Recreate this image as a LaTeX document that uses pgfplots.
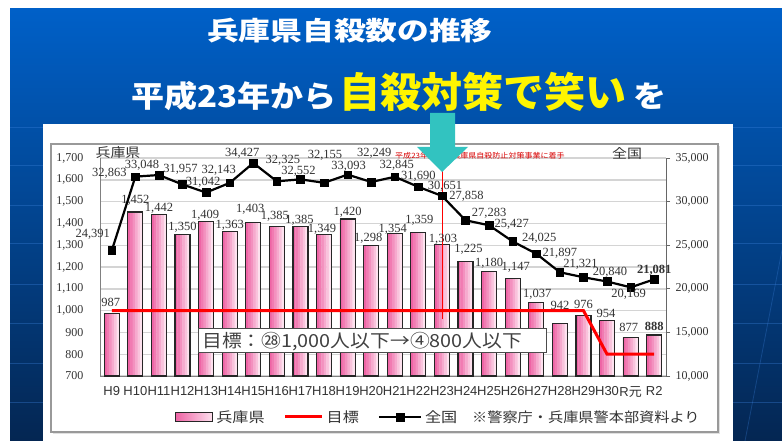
\documentclass[border=0pt]{standalone}
\usepackage{fontspec}
\usepackage{graphicx}
\usepackage{pgfplots}
\usepackage{pgfplotstable}
\pgfplotsset{compat=1.18}
\setmainfont{Liberation Serif}
\newfontfamily\jp{Noto Sans CJK JP}
\newfontfamily\jpw[FakeStretch=1.15]{Noto Sans CJK JP}
\newfontfamily\jpt[FakeStretch=1.22]{Noto Sans CJK JP}
\newfontfamily\jpa[FakeStretch=1.1]{Noto Sans CJK JP}
\newfontfamily\sansf{Liberation Sans}
\definecolor{pinkL}{RGB}{238,100,165}
\definecolor{pinkR}{RGB}{253,225,238}
\definecolor{teal2}{RGB}{50,195,192}
\definecolor{bgtop}{RGB}{0,96,200}
\definecolor{bgmid}{RGB}{7,70,148}
\definecolor{bgbot}{RGB}{4,38,82}
\definecolor{bgline}{RGB}{60,130,220}
\definecolor{yel}{RGB}{255,245,0}

\pgfplotstableread{
x y dx dy lab
0 987 -1 11 987
1 1452 0 12 1,452
2 1442 0 6 1,442
3 1350 0 7 1,350
4 1409 -1 6 1,409
5 1363 0 6 1,363
6 1403 -3 13 1,403
7 1385 -2 10 1,385
8 1385 -1 6 1,385
9 1349 -2 5 1,349
10 1420 0 7 1,420
11 1298 -3 7 1,298
12 1354 -2 4 1,354
13 1359 1 12 1,359
14 1303 1 5 1,303
15 1225 3 12 1,225
16 1180 0 8 1,180
17 1147 3 11 1,147
18 1037 1 8 1,037
19 942 0 18 942
20 976 0 11 976
21 954 -1 7 954
22 877 -2 10 877
23 888 0 9 \textbf{888}
}\hyogo

\pgfplotstableread{
x y dx dy lab
0 24391 -19 16 24,391
1 32863 -26 3 32,863
2 33048 -17 10 33,048
3 31957 -2 15 31,957
4 31042 -3 10 31,042
5 32143 -11 13 32,143
6 34427 -11 10 34,427
7 32325 6 21 32,325
8 32552 -2 8 32,552
9 32155 1 27 32,155
10 33093 1 8 33,093
11 32249 3 29 32,249
12 32845 2 11 32,845
13 31690 0 11 31,690
14 30651 3 10 30,651
15 27858 1 24 27,858
16 27283 0 12 27,283
17 25427 -1 17 25,427
18 24025 3 15 24,025
19 21897 0 19 21,897
20 21321 -3 13 21,321
21 20840 3 9 20,840
22 20169 -2 -7 20,169
23 21081 0 9 \textbf{21,081}
}\zenkoku

\pgfplotsset{strip/.style={ybar, bar width=2.9pt, draw=none, forget plot}}

\begin{document}
\begin{tikzpicture}
\begin{scope}[x=1pt,y=-1pt]
\path[use as bounding box] (0,0) rectangle (782,441);
\fill[white] (0,0) rectangle (782,441);
\shade[top color=bgtop, middle color=bgmid, bottom color=bgbot] (10,9) rectangle (782,441);
\foreach \yy in {127,165,205,243,284,323,363,402}
  \draw[line width=0.8pt, bgline, opacity=0.35] (10,\yy) -- (782,\yy);
\draw[line width=0.8pt, bgline, opacity=0.3] (782,250) -- (745,441);
% title
\node[anchor=base west, inner sep=0, text=white] at (207,41) {\jpt\bfseries\fontsize{26}{26}\selectfont 兵庫県自殺数の推移};
% subtitle
\node[anchor=base west, inner sep=0, text=white] at (131,108) {\jpa\bfseries\fontsize{30}{30}\selectfont 平成23年から};
\node[anchor=base west, inner sep=0, text=yel] at (339,108) {\jp\bfseries\fontsize{41}{41}\selectfont 自殺対策で笑い};
\node[anchor=base west, inner sep=0, text=white] at (633,108) {\jpa\bfseries\fontsize{30}{30}\selectfont を};
% panel
\fill[white] (43,124) rectangle (733,441);
\fill[black!12] (53,146) rectangle (720,434);
\draw[black!40, line width=1.5pt, fill=white] (51,144) rectangle (718,432);
\end{scope}

\begin{axis}[
  at={(100pt,-376pt)}, anchor=south west,
  width=566pt, height=218pt, scale only axis,
  xmin=-0.5, xmax=23.5, ymin=700, ymax=1700,
  axis x line*=bottom, axis y line*=left,
  axis line style={-, draw=black!50, line width=1pt},
  xtick={0,1,...,23},
  xticklabels={H9,H10,H11,H12,H13,H14,H15,H16,H17,H18,H19,H20,H21,H22,H23,H24,H25,H26,H27,H28,H29,H30,R{\jp 元},R2},
  ytick={700,800,...,1700},
  major tick length=0pt,
  ymajorgrids, grid style={draw=black!17, line width=1.4pt},
  x tick label style={font=\sansf\fontsize{13}{13}\selectfont, text=black!80, yshift=-7pt},
  y tick label style={font=\fontsize{12}{12}\selectfont, text=black!80, xshift=-13pt},
  /pgf/number format/assume math mode=true,
  /pgf/number format/1000 sep={,},
  clip=false,
  legend style={at={(0.1325,-0.188)}, anchor=west, draw=none, fill=none, inner sep=0pt,
    legend columns=-1, font=\jpw\fontsize{14}{14}\selectfont, text=black!80,
    nodes={inner sep=1pt},
    /tikz/every even column/.append style={column sep=18pt},
    /tikz/every odd column/.append style={column sep=2pt}},
]
% bars: pink gradient built from strips, then outline
\addplot[strip, bar shift=-6.25pt, fill=pinkL] table[x=x, y=y] {\hyogo};
\addplot[strip, bar shift=-3.75pt, fill=pinkL!82!pinkR] table[x=x, y=y] {\hyogo};
\addplot[strip, bar shift=-1.25pt, fill=pinkL!64!pinkR] table[x=x, y=y] {\hyogo};
\addplot[strip, bar shift=1.25pt, fill=pinkL!44!pinkR] table[x=x, y=y] {\hyogo};
\addplot[strip, bar shift=3.75pt, fill=pinkL!24!pinkR] table[x=x, y=y] {\hyogo};
\addplot[strip, bar shift=6.25pt, fill=pinkR] table[x=x, y=y] {\hyogo};
\addplot[ybar, bar width=15pt, draw=black!85, fill=none, line width=1.2pt,
  nodes near coords, point meta=explicit symbolic,
  visualization depends on={\thisrow{dx} \as \dx},
  visualization depends on={\thisrow{dy} \as \dy},
  every node near coord/.append style={anchor=center, xshift=\dx pt, yshift=\dy pt,
    font=\fontsize{12.5}{12.5}\selectfont, text=black!80, inner sep=0pt},
  legend image code/.code={\draw[draw=black!85, line width=1.2pt, left color=pinkL, right color=pinkR] (0pt,-4.5pt) rectangle (37pt,4.5pt);}
] table[x=x, y=y, meta=lab] {\hyogo};
\addlegendentry{兵庫県}
\addplot[red, line width=3pt, mark=none,
  legend image code/.code={\draw[red, line width=3pt] (0pt,0pt) -- (37pt,0pt);}]
  coordinates {(0,1000) (20,1000) (21,800) (23,800)};
\addlegendentry{目標}
\addlegendimage{black, line width=2.2pt,
  legend image code/.code={\draw[black, line width=2.2pt, mark=square*, mark size=3.8pt, mark options={line width=0.5pt}, mark repeat=2, mark phase=2] plot coordinates {(0pt,0pt) (21pt,0pt) (42pt,0pt)};}}
\addlegendentry{全国}
\addplot[red, line width=0.9pt, forget plot] coordinates {(14,961) (14,1700)};
\end{axis}

\begin{axis}[
  at={(100pt,-376pt)}, anchor=south west,
  width=566pt, height=218pt, scale only axis,
  xmin=-0.5, xmax=23.5, ymin=10000, ymax=35000,
  axis x line=none, axis y line*=right,
  axis line style={-, draw=black!60, line width=1pt},
  ytick={10000,15000,...,35000}, scaled y ticks=false,
  tick align=outside, major tick length=4pt,
  tick style={draw=black!60, line width=0.8pt},
  y tick label style={font=\fontsize{12}{12}\selectfont, text=black!80, xshift=2pt},
  /pgf/number format/assume math mode=true,
  /pgf/number format/1000 sep={,},
  clip=false,
]
\addplot[black, line width=2.2pt, mark=square*, mark size=3.8pt, mark options={line width=0.5pt},
  nodes near coords, point meta=explicit symbolic,
  visualization depends on={\thisrow{dx} \as \dx},
  visualization depends on={\thisrow{dy} \as \dy},
  every node near coord/.append style={anchor=center, xshift=\dx pt, yshift=\dy pt,
    font=\fontsize{12.5}{12.5}\selectfont, text=black!80, inner sep=0pt}
] table[x=x, y=y, meta=lab] {\zenkoku};
\end{axis}

\begin{scope}[x=1pt,y=-1pt]
\node[text=black!80, inner sep=0] at (118,153) {\jpw\fontsize{13}{13}\selectfont 兵庫県};
\node[text=black!80, inner sep=0] at (627,154) {\jpw\fontsize{13}{13}\selectfont 全国};
\node[text=red!85!black, anchor=west, inner sep=0] at (395,156) {\jpa\fontsize{7.3}{7.3}\selectfont 平成23年度から兵庫県自殺防止対策事業に着手};
\draw[black!70, line width=0.8pt, fill=white] (198,328) rectangle (546,352);
\node[anchor=base west, inner sep=0, text=black!75] at (202,347) {\jpa\fontsize{18}{18}\selectfont 目標：㉘1,000人以下→④800人以下};
\node[anchor=west, inner sep=0, text=black!80] at (472,417) {\jpa\fontsize{13.8}{13.8}\selectfont ※警察庁・兵庫県警本部資料より};
\fill[teal2] (430,113) -- (455,113) -- (455,147) -- (468,147) -- (442,172) -- (417,147) -- (430,147) -- cycle;
\end{scope}
\end{tikzpicture}
\end{document}
